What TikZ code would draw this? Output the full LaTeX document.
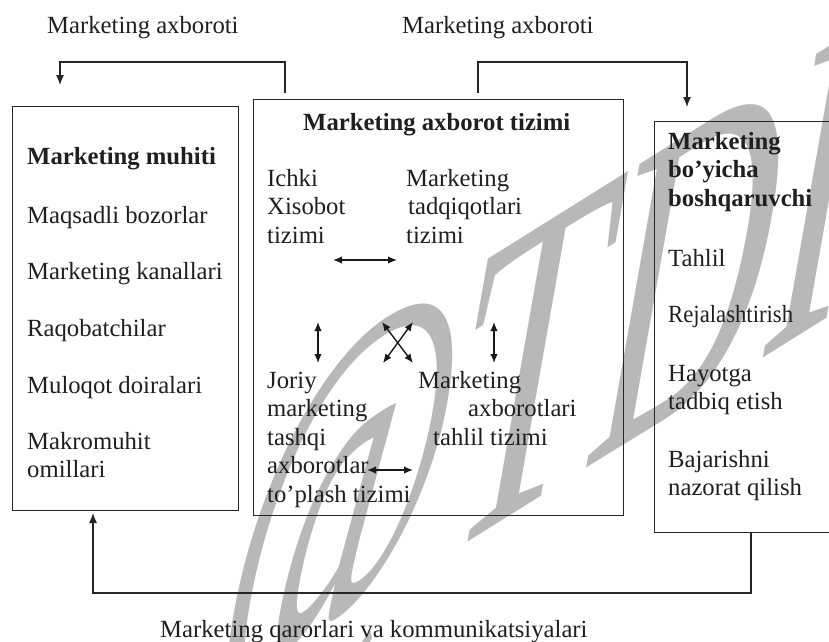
\documentclass[tikz,border=0pt]{standalone}
\usepackage{fontspec}
\setmainfont{Liberation Serif}
\usepackage{graphicx}
\usetikzlibrary{arrows.meta}

\newcommand\txtsize{\fontsize{24.7}{28.6}\selectfont}
\newcommand\lns[1]{\begin{tabular}[t]{@{}l@{}}#1\end{tabular}}

\begin{document}
\begin{tikzpicture}[x=1pt,y=-1pt,
  box/.style={draw=black!85, line width=1.1pt, inner sep=0pt, anchor=north west},
  lbl/.style={anchor=base west, inner sep=0pt, font=\txtsize, text=black!88},
  head/.style={lbl, font=\txtsize\bfseries},
  link/.style={draw=black!85, line width=1.2pt, -{Latex[length=10pt,width=8pt]}},
  both/.style={draw=black!90, line width=1.4pt, {Latex[length=9pt,width=7.5pt]}-{Latex[length=9pt,width=7.5pt]}}]
\useasboundingbox (0,0) rectangle (829,641);

% stamp in the background
\node[anchor=base west, inner sep=0pt, rotate=32, xslant=0.9, xscale=0.82, transform shape,
      text=black!28] (stamp) at (206,706)
  {\fontsize{350}{350}\selectfont @TDIU};

% the three blocks
\node[box, minimum width=226pt, minimum height=404pt] (env) at (12,106) {};
\node[box, minimum width=370pt, minimum height=416pt] (sys) at (253,99) {};
\node[box, minimum width=220pt, minimum height=411pt] (mgr) at (654,121) {};

% flow labels
\node[lbl] (infoL) at (47,33) {Marketing axboroti};
\node[lbl] (infoR) at (402,33) {Marketing axboroti};
\node[lbl] (dec) at (160,637) {Marketing qarorlari va kommunikatsiyalari};

% marketing environment
\node[head] (envT) at (27,164) {Marketing muhiti};
\node[lbl] (e1) at (27,223) {Maqsadli bozorlar};
\node[lbl] (e2) at (27,279) {Marketing kanallari};
\node[lbl] (e3) at (27,336) {Raqobatchilar};
\node[lbl] (e4) at (27,393) {Muloqot doiralari};
\node[lbl] (e5) at (27,449) {\lns{Makromuhit\\omillari}};

% marketing information system
\node[head] (sysT) at (303,130) {Marketing axborot tizimi};
\node[lbl] (s1) at (267,186) {\lns{Ichki\\Xisobot\\tizimi}};
\node[lbl] (s2) at (406,186) {\lns{Marketing\\\hspace{2pt}tadqiqotlari\\tizimi}};
\node[lbl] (s3) at (267,388) {\lns{Joriy\\marketing\\tashqi\\axborotlar\\to’plash tizimi}};
\node[lbl] (s4) at (418,388) {\lns{Marketing\\\hspace{50pt}axborotlari\\\hspace{15pt}tahlil tizimi}};

% marketing manager
\node[head] (mgrT) at (668,149) {\lns{Marketing\\bo’yicha\\boshqaruvchi}};
\node[lbl] (m1) at (668,266) {Tahlil};
\node[lbl] (m2) at (668,322) {\scalebox{0.92}[1]{Rejalashtirish}};
\node[lbl] (m3) at (668,381) {\lns{Hayotga\\tadbiq etish}};
\node[lbl] (m4) at (668,467) {\lns{Bajarishni\\nazorat qilish}};

% links between the subsystems
\coordinate (h1a) at (333,260); \coordinate (h1b) at (397,260);
\coordinate (v1a) at (318,322); \coordinate (v1b) at (318,363);
\coordinate (v2a) at (494,322); \coordinate (v2b) at (494,363);
\coordinate (c1a) at (383,363); \coordinate (c1b) at (413,322);
\coordinate (c2a) at (413,363); \coordinate (c2b) at (382,322);
\coordinate (h2a) at (367,470); \coordinate (h2b) at (413,470);
\draw[both] (h1a) -- (h1b);
\draw[both] (v1a) -- (v1b);
\draw[both] (v2a) -- (v2b);
\draw[both] (c1a) -- (c1b);
\draw[both] (c2a) -- (c2b);
\draw[both] (h2a) -- (h2b);

% information and decision flows
\coordinate (l0) at (285,93);  \coordinate (l1) at (60,85);
\coordinate (r0) at (478,93);  \coordinate (r1) at (687,107);
\coordinate (b0) at (751,532); \coordinate (b1) at (93,513);
\draw[link] (l0) -- ++(0,-31) -| (l1);
\draw[link] (r0) -- ++(0,-31) -| (r1);
\draw[link] (b0) -- ++(0,61) -| (b1);
\end{tikzpicture}
\end{document}
